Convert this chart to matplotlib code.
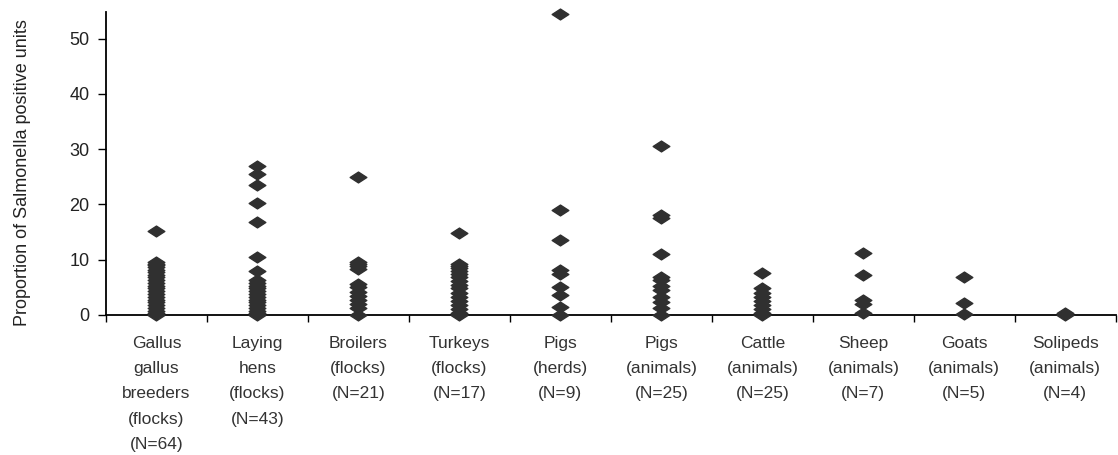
import matplotlib
matplotlib.use("Agg")
import matplotlib.pyplot as plt
from matplotlib.path import Path

plt.rcParams['font.family'] = ['Liberation Sans', 'DejaVu Sans']

categories = [
    "Gallus\ngallus\nbreeders\n(flocks)\n(N=64)",
    "Laying\nhens\n(flocks)\n(N=43)",
    "Broilers\n(flocks)\n(N=21)",
    "Turkeys\n(flocks)\n(N=17)",
    "Pigs\n(herds)\n(N=9)",
    "Pigs\n(animals)\n(N=25)",
    "Cattle\n(animals)\n(N=25)",
    "Sheep\n(animals)\n(N=7)",
    "Goats\n(animals)\n(N=5)",
    "Solipeds\n(animals)\n(N=4)",
]

gallus = [15.2, 9.6, 9.3, 9.0, 8.6, 8.2, 7.8, 7.3, 6.8, 6.3, 5.8, 5.3, 4.8, 4.3,
          3.8, 3.3, 2.8, 2.3, 1.8, 1.3, 0.8, 0.4, 0]
laying = [27.0, 25.5, 23.6, 20.2, 16.9, 10.4, 8.0, 6.3, 5.8, 5.3, 4.8, 4.3, 3.8,
          3.3, 2.8, 2.3, 1.8, 1.3, 0.8, 0.4, 0]
broilers = [24.9, 9.6, 9.2, 8.8, 8.3, 5.6, 5.0, 4.2, 3.5, 2.8, 2.0, 1.2, 0]
turkeys = [14.8, 9.3, 8.9, 8.5, 8.0, 7.4, 6.8, 6.2, 5.5, 4.8, 4.0, 3.3, 2.6,
           1.8, 1.0, 0.4, 0]
pigs_herds = [54.5, 19.0, 13.6, 8.1, 7.5, 5.0, 3.6, 1.5, 0]
pigs_animals = [30.6, 18.0, 17.5, 11.0, 6.9, 6.4, 5.3, 4.5, 3.3, 2.4, 1.2, 0]
cattle = [7.6, 4.8, 4.0, 3.3, 2.6, 1.8, 1.0, 0.4, 0]
sheep = [11.2, 7.2, 2.7, 2.0, 0.4]
goats = [6.9, 2.2, 0.2]
solipeds = [0.3, 0]

series = [gallus, laying, broilers, turkeys, pigs_herds, pigs_animals,
          cattle, sheep, goats, solipeds]

# flattened diamond like the original marker
diamond = Path([(-1, 0), (0, 0.65), (1, 0), (0, -0.65), (-1, 0)],
               [Path.MOVETO, Path.LINETO, Path.LINETO, Path.LINETO, Path.CLOSEPOLY])

fig = plt.figure(figsize=(11.18, 4.55), dpi=100)
ax = fig.add_axes([0.0948, 0.3077, 0.9032, 0.6659])

for i, vals in enumerate(series):
    ax.plot([i] * len(vals), vals, linestyle='none', marker=diamond,
            markersize=12, color='#303030', clip_on=False, zorder=3)

ax.set_xlim(-0.5, 9.5)
ax.set_ylim(0, 54.8)
ax.set_yticks([0, 10, 20, 30, 40, 50])
ax.tick_params(axis='y', labelsize=13, length=6, width=1, direction='out', pad=6,
               labelcolor='#222222')

ax.set_xticks(range(len(categories)))
ax.set_xticklabels(categories, fontsize=12.5, linespacing=1.86, color='#333333')
ax.tick_params(axis='x', which='major', length=0, pad=15)
ax.set_xticks([i - 0.5 for i in range(len(categories) + 1)], minor=True)
ax.tick_params(axis='x', which='minor', length=5, width=1, direction='out')

ax.spines['top'].set_visible(False)
ax.spines['right'].set_visible(False)
ax.spines['left'].set_linewidth(1.3)
ax.spines['bottom'].set_linewidth(1.3)

ax.set_ylabel("Proportion of Salmonella positive units", fontsize=13, color='#222222')
ax.yaxis.set_label_coords(-0.074, 0.47)

fig.savefig("out.png", dpi=100)
